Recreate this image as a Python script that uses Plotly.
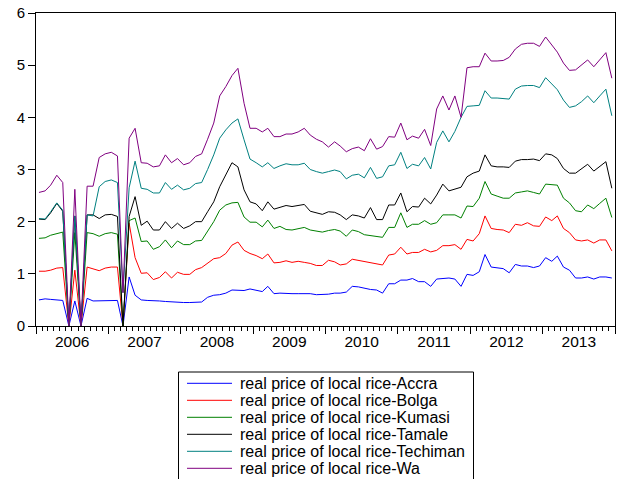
import pandas as pd
import plotly.graph_objects as go

# Monthly observations, Jan 2006 - Dec 2013
start_month = "2006-01-01"
n_months = 96

accra = [0.50, 0.52, 0.51, 0.50, 0.49, 0.00, 0.48, 0.00, 0.53, 0.48, 0.48, 0.48,
         0.49, 0.49, 0.00, 0.94, 0.59, 0.50, 0.49, 0.49, 0.48, 0.47, 0.46, 0.46,
         0.45, 0.45, 0.46, 0.46, 0.55, 0.59, 0.60, 0.63, 0.69, 0.69, 0.68, 0.71,
         0.69, 0.66, 0.76, 0.62, 0.63, 0.62, 0.62, 0.62, 0.62, 0.62, 0.60, 0.60,
         0.61, 0.63, 0.63, 0.65, 0.76, 0.75, 0.72, 0.70, 0.69, 0.63, 0.81, 0.81,
         0.88, 0.88, 0.91, 0.85, 0.85, 0.76, 0.90, 0.91, 0.92, 0.90, 0.76, 0.99,
         0.97, 1.04, 1.37, 1.13, 1.12, 1.10, 1.02, 1.18, 1.15, 1.15, 1.12, 1.15,
         1.31, 1.24, 1.34, 1.13, 1.07, 0.92, 0.92, 0.94, 0.90, 0.94, 0.94, 0.92]

bolga = [1.05, 1.05, 1.07, 1.11, 1.12, 0.00, 1.07, 0.00, 1.13, 1.10, 1.06, 1.11,
         1.13, 1.13, 0.00, 1.97, 1.31, 1.01, 1.02, 0.89, 0.93, 1.04, 0.92, 1.03,
         0.99, 0.99, 1.08, 1.12, 1.21, 1.29, 1.31, 1.39, 1.55, 1.61, 1.45, 1.39,
         1.35, 1.29, 1.38, 1.21, 1.22, 1.25, 1.22, 1.24, 1.22, 1.20, 1.16, 1.16,
         1.26, 1.23, 1.17, 1.19, 1.28, 1.26, 1.23, 1.22, 1.20, 1.17, 1.36, 1.38,
         1.51, 1.38, 1.41, 1.41, 1.47, 1.42, 1.45, 1.54, 1.54, 1.56, 1.47, 1.66,
         1.63, 1.77, 2.11, 1.87, 1.85, 1.84, 1.79, 1.95, 1.93, 1.98, 1.92, 1.91,
         2.09, 2.02, 2.11, 1.87, 1.79, 1.65, 1.63, 1.65, 1.59, 1.65, 1.65, 1.44]

kumasi = [1.68, 1.69, 1.74, 1.77, 1.80, 0.00, 1.79, 0.00, 1.79, 1.77, 1.72, 1.77,
          1.79, 1.76, 0.00, 2.02, 2.07, 1.62, 1.63, 1.47, 1.52, 1.65, 1.50, 1.63,
          1.56, 1.56, 1.63, 1.64, 1.81, 2.00, 2.22, 2.32, 2.36, 2.37, 2.09, 1.99,
          1.99, 1.90, 2.03, 1.87, 1.91, 1.85, 1.84, 1.86, 1.89, 1.84, 1.82, 1.80,
          1.83, 1.85, 1.82, 1.72, 1.84, 1.81, 1.75, 1.73, 1.72, 1.70, 1.89, 1.89,
          2.17, 1.89, 1.95, 1.95, 2.02, 1.95, 1.98, 2.13, 2.13, 2.13, 2.07, 2.30,
          2.29, 2.45, 2.77, 2.53, 2.49, 2.45, 2.45, 2.55, 2.57, 2.59, 2.56, 2.53,
          2.72, 2.71, 2.70, 2.45, 2.36, 2.21, 2.19, 2.32, 2.25, 2.35, 2.45, 2.08]

tamale = [2.05, 2.04, 2.17, 2.35, 2.20, 0.00, 2.11, 0.00, 2.13, 2.13, 2.06, 2.13,
          2.14, 2.10, 0.00, 2.10, 2.48, 1.93, 2.01, 1.84, 1.84, 2.00, 1.87, 1.97,
          1.87, 1.92, 2.00, 2.00, 2.19, 2.38, 2.67, 2.89, 3.13, 3.05, 2.61, 2.38,
          2.34, 2.21, 2.38, 2.24, 2.27, 2.31, 2.29, 2.31, 2.33, 2.20, 2.17, 2.14,
          2.19, 2.18, 2.13, 2.04, 2.13, 2.11, 2.07, 2.27, 2.04, 2.04, 2.32, 2.32,
          2.55, 2.19, 2.29, 2.28, 2.45, 2.34, 2.51, 2.72, 2.59, 2.62, 2.66, 2.86,
          2.93, 2.97, 3.28, 3.07, 3.05, 3.05, 3.04, 3.16, 3.19, 3.19, 3.20, 3.17,
          3.30, 3.28, 3.21, 3.02, 2.93, 2.93, 3.02, 3.10, 2.97, 3.05, 3.15, 2.64]

techiman = [2.06, 2.05, 2.19, 2.36, 2.22, 0.00, 2.11, 0.00, 2.13, 2.11, 2.67, 2.77,
            2.80, 2.75, 0.64, 2.65, 3.16, 2.64, 2.62, 2.55, 2.55, 2.75, 2.62, 2.70,
            2.61, 2.64, 2.73, 2.75, 3.00, 3.28, 3.60, 3.76, 3.89, 3.97, 3.57, 3.20,
            3.13, 3.05, 3.13, 3.02, 3.07, 3.11, 3.09, 3.09, 3.12, 3.00, 2.96, 2.93,
            2.96, 2.99, 2.96, 2.82, 2.89, 2.91, 2.84, 3.04, 2.83, 2.86, 3.07, 3.09,
            3.33, 3.02, 3.10, 3.07, 3.23, 3.01, 3.52, 3.74, 3.53, 3.73, 4.00, 4.21,
            4.22, 4.23, 4.51, 4.37, 4.37, 4.36, 4.35, 4.54, 4.60, 4.61, 4.61, 4.57,
            4.76, 4.64, 4.53, 4.33, 4.19, 4.22, 4.30, 4.41, 4.28, 4.41, 4.54, 4.03]

wa = [2.56, 2.59, 2.70, 2.89, 2.75, 0.00, 2.62, 0.00, 2.68, 2.68, 3.23, 3.30,
      3.33, 3.26, 0.64, 3.60, 3.79, 3.13, 3.12, 3.05, 3.07, 3.28, 3.13, 3.21,
      3.09, 3.13, 3.25, 3.30, 3.58, 3.89, 4.41, 4.59, 4.80, 4.94, 4.27, 3.79,
      3.79, 3.72, 3.79, 3.63, 3.63, 3.68, 3.68, 3.72, 3.79, 3.66, 3.58, 3.53,
      3.43, 3.53, 3.45, 3.34, 3.40, 3.43, 3.36, 3.59, 3.39, 3.44, 3.63, 3.62,
      3.89, 3.57, 3.64, 3.60, 3.77, 3.46, 4.16, 4.41, 4.14, 4.41, 4.00, 4.95,
      4.97, 4.97, 5.23, 5.08, 5.08, 5.09, 5.15, 5.31, 5.40, 5.42, 5.42, 5.36,
      5.54, 5.39, 5.25, 5.04, 4.90, 4.91, 5.01, 5.10, 4.97, 5.11, 5.24, 4.75]

series_names = ["real price of local rice-Accra", "real price of local rice-Bolga",
                "real price of local rice-Kumasi", "real price of local rice-Tamale",
                "real price of local rice-Techiman", "real price of local rice-Wa"]
series_values = [accra, bolga, kumasi, tamale, techiman, wa]
series_colors = ["#0000FF", "#FF0000", "#008000", "#000000", "#008080", "#800080"]

y_ticks = [0, 1, 2, 3, 4, 5, 6]

# mid-month positions
months = pd.date_range(start_month, periods=n_months, freq="MS") + pd.Timedelta(days=15)

FONT = "Liberation Sans, Arial, sans-serif"
fig = go.Figure()
for name, vals, col in zip(series_names, series_values, series_colors):
    fig.add_trace(go.Scatter(x=months, y=vals, mode="lines", name=name,
                             line=dict(color=col, width=1), showlegend=False,
                             hoverinfo="skip"))

W, H = 619, 479
ML, MR, MT, MB = 36, 4, 13, 153
PW, PH = W - ML - MR, H - MT - MB

def px2x(px):
    return (px - ML) / PW

def py2y(py):
    return (H - MB - py) / PH

# manual legend (EViews-style box, cut off at the bottom)
fig.add_shape(type="rect", xref="paper", yref="paper",
              x0=px2x(178.5), x1=px2x(473.5), y0=py2y(372), y1=py2y(490),
              line=dict(color="black", width=1), fillcolor="white")
for k, (name, col) in enumerate(zip(series_names, series_colors)):
    yy = 383.3 + 17.0 * k
    fig.add_shape(type="line", xref="paper", yref="paper",
                  x0=px2x(187), x1=px2x(232), y0=py2y(yy), y1=py2y(yy),
                  line=dict(color=col, width=1))
    fig.add_annotation(xref="paper", yref="paper", x=px2x(238), y=py2y(yy),
                       text=name, showarrow=False, xanchor="left", yanchor="middle",
                       font=dict(family=FONT, size=16, color="black"))

fig.update_layout(
    width=W, height=H,
    margin=dict(l=ML, r=MR, t=MT, b=MB, pad=0),
    paper_bgcolor="white", plot_bgcolor="white",
    font=dict(family=FONT, size=15, color="black"),
    showlegend=False,
    hovermode=False,
)
fig.update_xaxes(
    type="date", range=["2006-01-01", "2014-01-01"],
    tick0="2006-01-01", dtick="M12", tickformat="%Y", ticklabelmode="period",
    ticks="outside", ticklen=7, tickwidth=1, tickcolor="black",
    ticklabelstandoff=-6,
    minor=dict(dtick="M1", ticks="outside", ticklen=4, tickwidth=1, tickcolor="black", showgrid=False),
    showline=True, linecolor="black", linewidth=1, mirror=True,
    showgrid=False, zeroline=False,
    tickfont=dict(family=FONT, size=15.5, color="black"),
)
fig.update_yaxes(
    range=[0, 6], tickvals=y_ticks, ticktext=[str(v) for v in y_ticks],
    ticks="outside", ticklen=7, tickwidth=1, tickcolor="black",
    showline=True, linecolor="black", linewidth=1, mirror=True,
    showgrid=False, zeroline=False,
    tickfont=dict(family=FONT, size=15, color="black"),
)

fig.write_html("out.html", config={"displayModeBar": False, "staticPlot": True},
               post_script="document.body.style.margin='0';document.body.style.overflow='hidden';")
